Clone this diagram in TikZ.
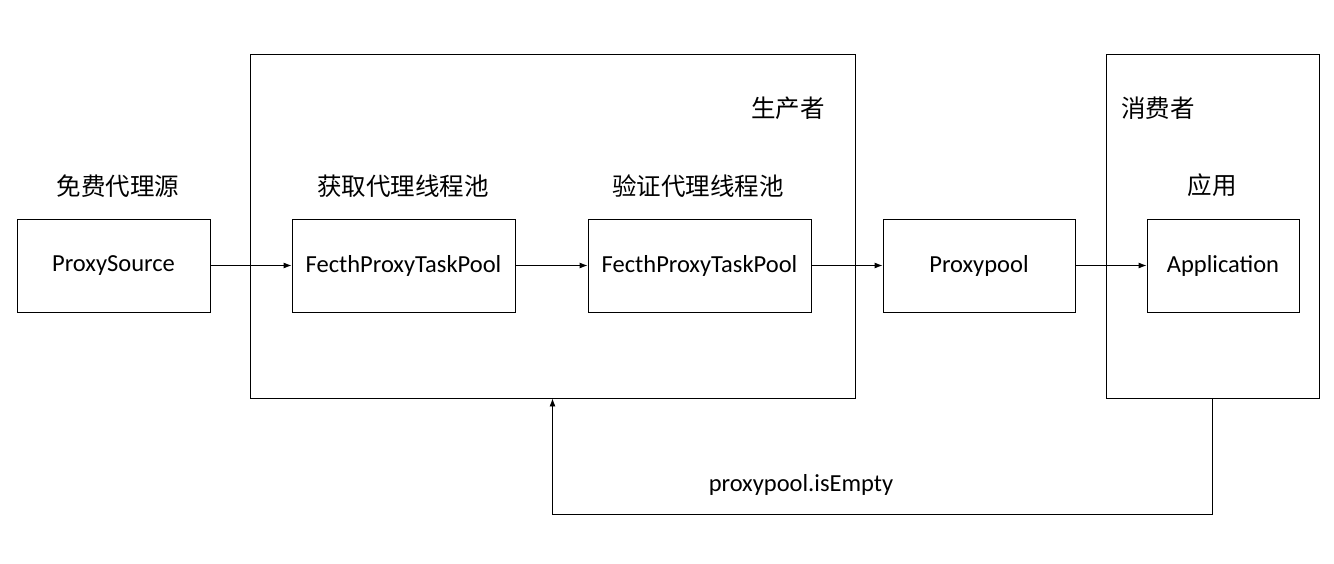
\documentclass[tikz,border=0pt]{standalone}
\usepackage{fontspec}
\setmainfont{Carlito}
\newfontfamily\cjk{Noto Sans CJK SC}
\usetikzlibrary{arrows.meta}

\begin{document}
\begin{tikzpicture}[x=1pt,y=-1pt,->,>={Latex[length=8pt,width=6pt]},line width=0.9pt,every node/.style={font=\fontsize{24.5}{29}\selectfont},box/.style={draw,rectangle,inner sep=0pt,minimum height=93pt},title/.style={font=\cjk\fontsize{24.5}{29}\selectfont}
]
\useasboundingbox (0,0) rectangle (1334,564);

\node[box,minimum width=605pt,minimum height=344pt](producer) at (552.5,226) {};
\node[box,minimum width=213pt,minimum height=344pt](consumer) at (1212.5,226) {};

\node[box,minimum width=193pt](source) at (113.5,265.5) {ProxySource};
\node[box,minimum width=223pt](fetch) at (403.5,265.5) {FecthProxyTaskPool};
\node[box,minimum width=223pt](check) at (699.5,265.5) {FecthProxyTaskPool};
\node[box,minimum width=192pt](pool) at (979,265.5) {Proxypool};
\node[box,minimum width=152pt](app) at (1223,265.5) {Application};

\node[title](sourcelbl) at (118,186) {免费代理源};
\node[title](fetchlbl) at (403,186) {获取代理线程池};
\node[title](checklbl) at (698,186) {验证代理线程池};
\node[title](producerlbl) at (788,108) {生产者};
\node[title](consumerlbl) at (1158,108) {消费者};
\node[title](applbl) at (1212,185) {应用};

\draw (source) -- (fetch);
\draw (fetch) -- (check);
\draw (check) -- (pool);
\draw (pool) -- (app);
\draw (consumer.south) -- ++(0,116) -| (producer.south);
\node(emptylbl) at (801,485) {proxypool.isEmpty};
\end{tikzpicture}
\end{document}
